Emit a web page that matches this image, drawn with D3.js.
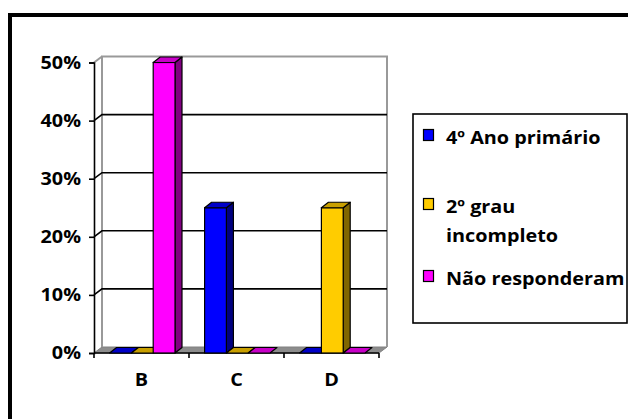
<!DOCTYPE html>
<html>
<head>
<meta charset="utf-8">
<script src="https://cdn.jsdelivr.net/npm/d3@7"></script>
<style>
  html, body { margin: 0; padding: 0; background: #fff; }
  svg { display: block; }
  text { font-family: "Open Sans", sans-serif; font-weight: bold; fill: #000; }
</style>
</head>
<body>
<svg id="chart" width="628" height="419"></svg>
<script>
// ---- data ----
const categories = ["B", "C", "D"];
const seriesNames = ["4º Ano primário", "2º grau incompleto", "Não responderam"];
const seriesValues = [
  [0, 0.25, 0],     // 4º Ano primário
  [0, 0, 0.25],     // 2º grau incompleto
  [0.5, 0, 0]       // Não responderam
];
const yTicks = [0, 0.1, 0.2, 0.3, 0.4, 0.5];
const legendLines = [["4º Ano primário"], ["2º grau", "incompleto"], ["Não responderam"]];

// ---- styles ----
const FONT = "'Open Sans', sans-serif";
const FS = 18;
const STRETCH = 1.1;
const frontColors = ["#0000FF", "#FFCC00", "#FF00FF"];
const topColors   = ["#0000C8", "#C89F00", "#C800C8"];
const sideColors  = ["#000080", "#806600", "#800080"];

const svg = d3.select("#chart");

// outer frame
svg.append("rect").attr("x", 10).attr("y", 15).attr("width", 660).attr("height", 440)
  .attr("fill", "none").attr("stroke", "#000").attr("stroke-width", 4);

const x0 = 94, x1 = 379, yBase = 353, yTop = 62.5;
const DX = 8, DY = -6;   // chart depth
const bdx = 7, bdy = -5.5; // bar depth

const x = d3.scaleBand().domain(categories).range([x0, x1]).padding(0);
const xs = d3.scaleBand().domain(d3.range(seriesNames.length)).range([15.6, 81]).padding(0);
const y = d3.scaleLinear().domain([0, 0.5]).range([yBase, yTop]);

// floor
svg.append("path")
  .attr("d", `M${x0},${yBase} L${x1},${yBase} L${x1+DX},${yBase+DY} L${x0+DX},${yBase+DY} Z`)
  .attr("fill", "#8c8c8c").attr("stroke", "#808080").attr("stroke-width", 1);

// back wall borders (gray)
svg.append("path")
  .attr("d", `M${x0+DX},${yBase+DY} L${x0+DX},${y(0.5)+DY} L${x1+DX},${y(0.5)+DY} L${x1+DX},${yBase+DY}`)
  .attr("fill", "none").attr("stroke", "#999").attr("stroke-width", 2);
svg.append("line")
  .attr("x1", x0).attr("y1", y(0.5)).attr("x2", x0+DX).attr("y2", y(0.5)+DY)
  .attr("stroke", "#999").attr("stroke-width", 2);

// gridlines (10%..40%)
yTicks.filter(t => t > 0 && t < 0.5).forEach(t => {
  svg.append("path")
    .attr("d", `M${x0},${y(t)} L${x0+DX},${y(t)+DY} L${x1+DX},${y(t)+DY}`)
    .attr("fill", "none").attr("stroke", "#000").attr("stroke-width", 1.6);
});

// y axis
const yAxis = d3.axisLeft(y).tickValues(yTicks).tickFormat(d3.format(".0%")).tickSize(5).tickPadding(8);
const gy = svg.append("g").attr("transform", `translate(${x0},0)`).call(yAxis)
  .attr("font-family", FONT).attr("font-size", FS).attr("font-weight", "bold");
gy.select(".domain").attr("stroke", "#000").attr("stroke-width", 1.6);
gy.selectAll(".tick line").attr("stroke", "#000").attr("stroke-width", 1.6);
gy.selectAll(".tick text").attr("fill", "#000");

// x axis
const xAxis = d3.axisBottom(x).tickSize(0).tickPadding(20);
const gx = svg.append("g").attr("transform", `translate(0,${yBase})`).call(xAxis)
  .attr("font-family", FONT).attr("font-size", FS).attr("font-weight", "bold");
gx.select(".domain").remove();
gx.selectAll(".tick text").attr("fill", "#000");
svg.append("line").attr("x1", x0).attr("x2", x1).attr("y1", yBase).attr("y2", yBase)
  .attr("stroke", "#000").attr("stroke-width", 1.6);
const bounds = [x0].concat(categories.map(c => x(c) + x.bandwidth()));
svg.selectAll(".xtick").data(bounds).enter().append("line")
  .attr("x1", d => d).attr("x2", d => d).attr("y1", yBase).attr("y2", yBase + 5)
  .attr("stroke", "#000").attr("stroke-width", 1.6);

// bars (3D)
const bars = [];
categories.forEach((c, ci) => {
  seriesNames.forEach((s, si) => {
    bars.push({ c, si, v: seriesValues[si][ci] });
  });
});
const bw = xs.bandwidth();
const g = svg.append("g");
bars.forEach(b => {
  const left = x(b.c) + xs(b.si), right = left + bw;
  const top = y(b.v), bot = y(0);
  if (b.v > 0) {
    g.append("path")
      .attr("d", `M${right},${bot} L${right},${top} L${right+bdx},${top+bdy} L${right+bdx},${bot+bdy} Z`)
      .attr("fill", sideColors[b.si]).attr("stroke", "#000").attr("stroke-width", 1.2).attr("stroke-linejoin", "round");
    g.append("rect").attr("x", left).attr("y", top).attr("width", bw).attr("height", bot - top)
      .attr("fill", frontColors[b.si]).attr("stroke", "#000").attr("stroke-width", 1.2);
  }
  g.append("path")
    .attr("d", `M${left},${top} L${right},${top} L${right+bdx},${top+bdy} L${left+bdx},${top+bdy} Z`)
    .attr("fill", topColors[b.si]).attr("stroke", "#000").attr("stroke-width", 1.2).attr("stroke-linejoin", "round");
});

// legend
const lg = svg.append("g");
lg.append("rect").attr("x", 413).attr("y", 114).attr("width", 214).attr("height", 209)
  .attr("fill", "#fff").attr("stroke", "#000").attr("stroke-width", 1.6);
const legendY = [129.5, 198.5, 270.5];
legendLines.forEach((lines, i) => {
  lg.append("rect").attr("x", 423.5).attr("y", legendY[i]).attr("width", 10).attr("height", 11)
    .attr("fill", frontColors[i]).attr("stroke", "#000").attr("stroke-width", 1.2);
  const t = lg.append("text").attr("x", 446).attr("y", legendY[i] + 14)
    .attr("font-family", FONT).attr("font-size", FS).attr("font-weight", "bold");
  lines.forEach((ln, li) => {
    t.append("tspan").attr("x", 446).attr("dy", li === 0 ? 0 : 29.5).text(ln);
  });
});

// widen glyphs slightly to mimic the reference's wide bold face
svg.selectAll("text").each(function () {
  const el = d3.select(this);
  const spans = el.selectAll("tspan");
  if (spans.size() > 0) {
    spans.each(function () {
      const w = this.getComputedTextLength();
      d3.select(this).attr("textLength", w * STRETCH).attr("lengthAdjust", "spacingAndGlyphs");
    });
  } else {
    const w = this.getComputedTextLength();
    el.attr("textLength", w * STRETCH).attr("lengthAdjust", "spacingAndGlyphs");
  }
});
</script>
</body>
</html>
